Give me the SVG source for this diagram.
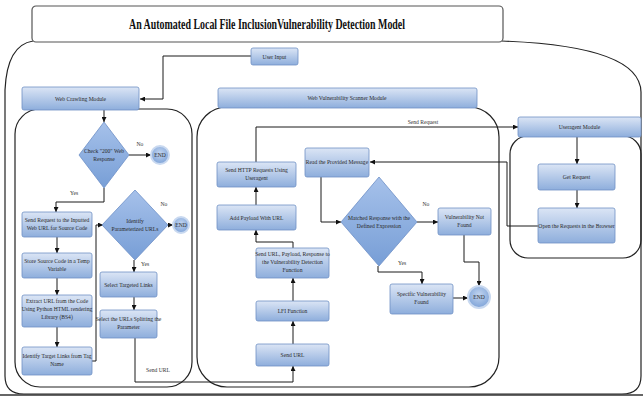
<svg xmlns="http://www.w3.org/2000/svg" width="643" height="396" viewBox="0 0 643 396">
<defs>
<linearGradient id="gb" x1="0" y1="0" x2="0" y2="1">
<stop offset="0" stop-color="#dbe5f5"/>
<stop offset="1" stop-color="#8eaedc"/>
</linearGradient>
<linearGradient id="gd" x1="0" y1="0" x2="0" y2="1">
<stop offset="0" stop-color="#a6c1ea"/>
<stop offset="1" stop-color="#779ed6"/>
</linearGradient>
<radialGradient id="gc" cx="0.5" cy="0.4" r="0.6">
<stop offset="0" stop-color="#c2d5f0"/>
<stop offset="1" stop-color="#7ea3d8"/>
</radialGradient>
<marker id="ah" viewBox="0 0 10 10" refX="10" refY="5" markerWidth="5" markerHeight="5" orient="auto">
<path d="M0,0 L10,5 L0,10 z" fill="#111"/>
</marker>
</defs>
<style>
.box{fill:url(#gb);stroke:#6f90c4;stroke-width:0.8}
.dia{fill:url(#gd);stroke:#6d8fc6;stroke-width:0.8}
.end{fill:url(#gc);stroke:#c9d9f0;stroke-width:2}
.cont{fill:none;stroke:#222;stroke-width:1.2}
.t{font-family:"Liberation Serif",serif;font-size:5.6px;fill:#2a2a2a;text-anchor:middle}
.lbl{font-family:"Liberation Serif",serif;font-size:5.6px;fill:#333;text-anchor:middle}
.c{fill:none;stroke:#1a1a1a;stroke-width:1}
.ca{fill:none;stroke:#1a1a1a;stroke-width:1;marker-end:url(#ah)}
</style>
<rect width="643" height="396" fill="#fff"/>
<!-- outer container -->
<path class="cont" d="M33,41 Q7,45 5,90 L5,376 Q5,394 24,394 L622,394 Q641,394 641,376 L641,92 Q640,46 502,41"/>
<line x1="0" y1="395" x2="643" y2="395" stroke="#333" stroke-width="1.5"/>
<!-- title -->
<g id="title">
<rect x="32" y="6" width="471" height="36" rx="4" fill="#fff" stroke="#555" stroke-width="1.2"/>
<text x="267" y="29" font-family="Liberation Serif,serif" font-weight="bold" font-size="14" text-anchor="middle" textLength="276" lengthAdjust="spacingAndGlyphs" fill="#111">An Automated Local File InclusionVulnerability Detection Model</text>
</g>
<!-- containers -->
<g id="crawl-container"><rect class="cont" x="15" y="109" width="177" height="278" rx="25"/></g>
<g id="scanner-container"><rect class="cont" x="197" y="107" width="302" height="280" rx="30"/></g>
<g id="ua-container"><rect class="cont" x="510" y="136" width="131" height="122" rx="18"/></g>
<!-- connectors -->
<g id="connectors">
<path class="ca" d="M251,56 H163 V99 H140"/>
<path class="ca" d="M104,110 V122"/>
<path class="ca" d="M129,155 H151"/>
<path class="ca" d="M104,188 V202 H56 V212"/>
<path class="ca" d="M57,237 V253"/>
<path class="ca" d="M57,278 V295"/>
<path class="ca" d="M57,327 V347"/>
<path class="ca" d="M92,361 H96 V225 H103"/>
<path class="ca" d="M168,225 H173"/>
<path class="ca" d="M134,260 V272"/>
<path class="ca" d="M134,297 V310"/>
<path class="ca" d="M135,338 V382 H293 V366"/>
<path class="ca" d="M293,344 V321"/>
<path class="ca" d="M293,301 V278"/>
<path class="ca" d="M293,248 V242 H256 V230"/>
<path class="ca" d="M256,205 V187"/>
<path class="ca" d="M256,162 V127 H518"/>
<path class="ca" d="M577,137 V164"/>
<path class="ca" d="M577,190 V208"/>
<path class="ca" d="M538,226 H507 V162 H370"/>
<path class="ca" d="M321,177 V222 H341"/>
<path class="ca" d="M417,222 H438"/>
<path class="ca" d="M464,235 V262 H479 V286"/>
<path class="ca" d="M378,266 V272 H422 V284"/>
<path class="ca" d="M453,298 H468"/>
</g>
<!-- labels -->
<g id="edge-labels">
<text class="lbl" x="140" y="146">No</text>
<text class="lbl" x="74" y="195">Yes</text>
<text class="lbl" x="164" y="206">No</text>
<text class="lbl" x="145" y="266">Yes</text>
<text class="lbl" x="158" y="372">Send URL</text>
<text class="lbl" x="423" y="124">Send Request</text>
<text class="lbl" x="426" y="206">No</text>
<text class="lbl" x="402" y="265">Yes</text>
</g>
<!-- nodes -->
<g id="user-input"><rect class="box" x="251" y="48" width="47" height="17" rx="2"/><text class="t" x="274.5" y="58.5">User Input</text></g>
<g id="web-crawling-module"><rect class="box" x="22" y="87" width="117" height="23" rx="2"/><text class="t" x="80.5" y="100.5">Web Crawling Module</text></g>
<g id="check-200"><polygon class="dia" points="104,122 129,155 104,188 79,155"/><text class="t" x="104" y="153">Check "200" Web</text><text class="t" x="104" y="161">Response</text></g>
<g id="end1"><circle class="end" cx="160" cy="155" r="9"/><text class="t" x="160" y="157">END</text></g>
<g id="send-request"><rect class="box" x="22" y="212" width="70" height="25" rx="2"/><text class="t" x="57" y="222">Send Request to the Inputted</text><text class="t" x="57" y="230">Web URL for Source Code</text></g>
<g id="store-source"><rect class="box" x="22" y="253" width="70" height="25" rx="2"/><text class="t" x="57" y="263">Store Source Code in a Temp</text><text class="t" x="57" y="271">Variable</text></g>
<g id="extract-url"><rect class="box" x="22" y="295" width="70" height="32" rx="2"/><text class="t" x="57" y="303">Extract URL from the Code</text><text class="t" x="57" y="311">Using Python HTML rendering</text><text class="t" x="57" y="319">Library (BS4)</text></g>
<g id="identify-target"><rect class="box" x="22" y="347" width="70" height="28" rx="2"/><text class="t" x="57" y="358">Identify Target Links from Tag</text><text class="t" x="57" y="366">Name</text></g>
<g id="identify-param"><polygon class="dia" points="135,190 168,225 135,260 102,225"/><text class="t" x="135" y="223">Identify</text><text class="t" x="135" y="231">Parameterized URLs</text></g>
<g id="end2"><circle class="end" cx="181" cy="225" r="8"/><text class="t" x="181" y="227">END</text></g>
<g id="select-targeted"><rect class="box" x="100" y="272" width="57" height="25" rx="2"/><text class="t" x="128.5" y="286.5">Select Targeted Links</text></g>
<g id="select-urls"><rect class="box" x="100" y="310" width="57" height="28" rx="2"/><text class="t" x="128.5" y="321">Select the URLs Splitting the</text><text class="t" x="128.5" y="329">Parameter</text></g>
<g id="scanner-module"><rect class="box" x="218" y="88" width="259" height="20" rx="2"/><text class="t" x="347" y="100">Web Vulnerability Scanner Module</text></g>
<g id="send-http"><rect class="box" x="217" y="162" width="79" height="25" rx="2"/><text class="t" x="256.5" y="172">Send HTTP Requests Using</text><text class="t" x="256.5" y="180">Useragent</text></g>
<g id="add-payload"><rect class="box" x="217" y="205" width="79" height="25" rx="2"/><text class="t" x="256.5" y="219.5">Add Payload With URL</text></g>
<g id="send-url-payload"><rect class="box" x="256" y="248" width="73" height="30" rx="2"/><text class="t" x="292.5" y="256">Send URL, Payload, Response to</text><text class="t" x="292.5" y="264">the Vulnerability Detection</text><text class="t" x="292.5" y="272">Function</text></g>
<g id="lfi-function"><rect class="box" x="256" y="301" width="73" height="20" rx="2"/><text class="t" x="292.5" y="313">LFI Function</text></g>
<g id="send-url"><rect class="box" x="256" y="344" width="73" height="22" rx="2"/><text class="t" x="292.5" y="357">Send URL</text></g>
<g id="read-message"><rect class="box" x="305" y="148" width="64" height="29" rx="2"/><text class="t" x="337" y="164">Read the Provided Message</text></g>
<g id="matched-response"><polygon class="dia" points="379,177 417,222 379,266 341,222"/><text class="t" x="379" y="220">Matched Response with the</text><text class="t" x="379" y="228">Defined Expression</text></g>
<g id="not-found"><rect class="box" x="438" y="208" width="53" height="27" rx="2"/><text class="t" x="464.5" y="219">Vulnerability Not</text><text class="t" x="464.5" y="227">Found</text></g>
<g id="specific-found"><rect class="box" x="390" y="284" width="63" height="30" rx="2"/><text class="t" x="421.5" y="296">Specific Vulnerability</text><text class="t" x="421.5" y="304">Found</text></g>
<g id="end3"><circle class="end" cx="479" cy="297" r="11"/><text class="t" x="479" y="299">END</text></g>
<g id="useragent-module"><rect class="box" x="518" y="117" width="123" height="20" rx="2"/><text class="t" x="579.5" y="129">Useragent Module</text></g>
<g id="get-request"><rect class="box" x="538" y="164" width="77" height="26" rx="2"/><text class="t" x="576.5" y="179">Get Request</text></g>
<g id="open-browser"><rect class="box" x="538" y="208" width="77" height="35" rx="2"/><text class="t" x="576.5" y="227.5">Open the Requests in the Browser</text></g>
</svg>
